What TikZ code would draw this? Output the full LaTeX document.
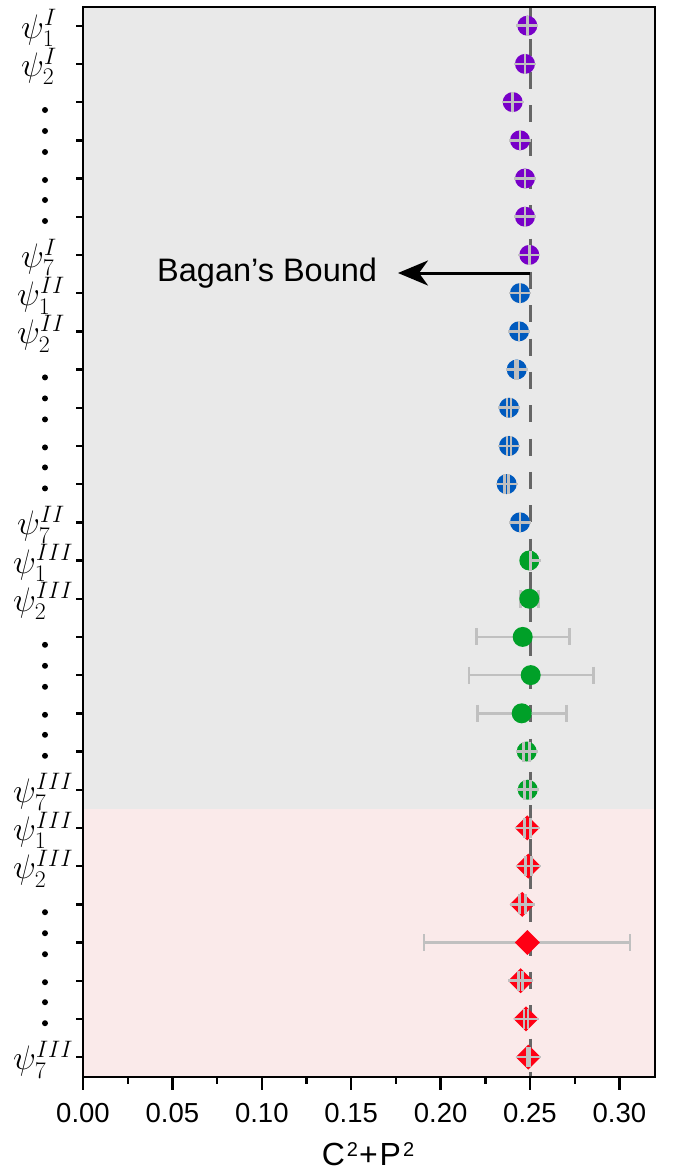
\RequirePackage{fix-cm}
\documentclass[tikz,border=0pt]{standalone}
\usepackage[no-math]{fontspec}
\newfontfamily\arial{Liberation Sans}
\usetikzlibrary{arrows.meta}
\definecolor{bggray}{RGB}{233,233,233}
\definecolor{bgpink}{RGB}{250,234,234}
\definecolor{dashgray}{RGB}{102,102,102}
\definecolor{errgray}{RGB}{192,192,192}
\definecolor{mpurple}{RGB}{120,0,200}
\definecolor{mblue}{RGB}{0,90,190}
\definecolor{mgreen}{RGB}{0,160,40}
\definecolor{mred}{RGB}{255,0,20}
\newcommand{\sqtwo}{\raisebox{9pt}{\fontsize{20}{20}\selectfont 2}}
\tikzset{
  crossln/.style={draw=errgray, line width=2.6pt},
  errln/.style={draw=errgray, line width=2.6pt},
  frameln/.style={draw=black, line width=2.6pt},
  tickln/.style={draw=black, line width=2.4pt},
  ticklab/.style={anchor=base, inner sep=0pt, font=\arial\fontsize{27.5}{30}\selectfont},
  psilab/.style={anchor=west, inner sep=0pt, font=\fontsize{34}{34}\selectfont},
  vdot/.style={fill=black},
}
\begin{document}
\begin{tikzpicture}[x=1pt,y=-1pt]
\useasboundingbox (0,0) rectangle (685,1170);
\fill[white] (0,0) rectangle (685,1170);
% backgrounds
\fill[bggray] (83,7) rectangle (655,809);
\fill[bgpink] (83,809) rectangle (655,1077);
% Bagan's bound dashed line
\draw[dashgray, line width=3pt, dash pattern=on 17pt off 16.33pt, dash phase=1.7pt] (530,7) -- (530,1077);
% arrow
\coordinate (bbstart) at (530,273);
\coordinate (bbtip) at (398,273);
\draw[line width=3pt, -{Stealth[length=30pt,width=25pt,inset=9pt]}] (bbstart) -- (bbtip);
\node[anchor=base west, inner sep=0pt, font=\arial\fontsize{32.5}{34}\selectfont] (bagan) at (157,281) {Bagan’s Bound};
% purple (group I)
\foreach \r/\x/\d in {0/527.3/0,1/525/0,2/512.7/0,3/520/0,4/525/0,5/525/0,6/529.3/0}{
  \pgfmathsetmacro\yy{25.7+38.2*\r}
  \fill[mpurple] (\x,\yy) circle (10pt);
  \draw[crossln] (\x-11,\yy) -- (\x+11,\yy);
  \draw[crossln] (\x-\d,\yy-10) -- (\x-\d,\yy+10) (\x+\d,\yy-10) -- (\x+\d,\yy+10);
}
% blue (group II)
\foreach \r/\x/\d in {7/520/0,8/519/0,9/516.7/1.3,10/509/2,11/509/2,12/506.7/2,13/520/0}{
  \pgfmathsetmacro\yy{25.7+38.2*\r}
  \fill[mblue] (\x,\yy) circle (10pt);
  \draw[crossln] (\x-11,\yy) -- (\x+11,\yy);
  \draw[crossln] (\x-\d,\yy-10) -- (\x-\d,\yy+10) (\x+\d,\yy-10) -- (\x+\d,\yy+10);
}
% green (group III)
\pgfmathsetmacro\yy{25.7+38.2*14}
\fill[mgreen] (529.3,\yy) circle (10pt);
\draw[crossln] (530.3,\yy) -- (541,\yy);
\draw[crossln] (530.3,\yy-10) -- (530.3,\yy+10);
\foreach \r/\x/\xl/\xr/\ch in {15/529.3/520.3/538.3/9,16/522.7/476.7/569.3/8.5,17/530.7/469/593.3/8.5,18/521.7/477.7/566.7/8.5}{
  \pgfmathsetmacro\yy{25.7+38.2*\r}
  \draw[errln] (\xl,\yy) -- (\xr,\yy) (\xl,\yy-\ch) -- (\xl,\yy+\ch) (\xr,\yy-\ch) -- (\xr,\yy+\ch);
  \fill[mgreen] (\x,\yy) circle (10pt);
}
\foreach \r/\x/\d in {19/526.7/3,20/527.7/3}{
  \pgfmathsetmacro\yy{25.7+38.2*\r}
  \fill[mgreen] (\x,\yy) circle (10pt);
  \draw[crossln] (\x-11,\yy) -- (\x+11,\yy);
  \draw[crossln] (\x-\d,\yy-10) -- (\x-\d,\yy+10) (\x+\d,\yy-10) -- (\x+\d,\yy+10);
}
% red diamonds
\foreach \r/\x/\d in {21/527.3/3,22/528.3/3,23/522.3/3,25/520.7/2,26/526/2,27/528.3/1.3}{
  \pgfmathsetmacro\yy{25.7+38.2*\r}
  \fill[mred] (\x,\yy-12.5) -- (\x+12.5,\yy) -- (\x,\yy+12.5) -- (\x-12.5,\yy) -- cycle;
  \draw[crossln] (\x-12.5,\yy) -- (\x+12.5,\yy);
  \draw[crossln] (\x-\d,\yy-10) -- (\x-\d,\yy+10) (\x+\d,\yy-10) -- (\x+\d,\yy+10);
}
\pgfmathsetmacro\yy{25.7+38.2*24}
\draw[errln] (424,\yy) -- (630,\yy) (424,\yy-8.5) -- (424,\yy+8.5) (630,\yy-8.5) -- (630,\yy+8.5);
\fill[mred] (527.3,\yy-12.5) -- (539.8,\yy) -- (527.3,\yy+12.5) -- (514.8,\yy) -- cycle;
% frame
\draw[frameln] (83,7) rectangle (655,1077);
% y ticks
\foreach \r in {0,...,27}{
  \pgfmathsetmacro\yy{25.7+38.2*\r}
  \draw[tickln] (76,\yy) -- (83,\yy);
}
% x ticks
\foreach \k/\lab in {0/0.00,1/0.05,2/0.10,3/0.15,4/0.20,5/0.25,6/0.30}{
  \pgfmathsetmacro\xx{83+89.4*\k}
  \draw[tickln] (\xx,1077) -- (\xx,1090);
  \node[ticklab] (xt\k) at (\xx,1122) {\lab};
}
\foreach \k in {0,...,5}{
  \pgfmathsetmacro\xx{83+44.7+89.4*\k}
  \draw[tickln] (\xx,1077) -- (\xx,1084);
}
\node[anchor=base, inner sep=0pt, font=\arial\fontsize{32}{34}\selectfont] (xlab) at (368,1165) {C\kern2pt\sqtwo\kern1pt+\kern2pt P\kern2pt\sqtwo};
% psi labels
\foreach \r/\lx/\sup/\sub in {0/21/I/1,1/21/I/2,6/21/I/7,7/17/II/1,8/17/II/2,13/17/II/7,14/13/III/1,15/13/III/2,20/13/III/7,21/13/III/1,22/13/III/2,27/13/III/7}{
  \pgfmathsetmacro\yy{25.7+38.2*\r+2.5}
  \node[psilab] (psi\r) at (\lx,\yy) {$\psi^{\sup}_{\sub}$};
}
% vertical dots
\foreach \g in {0,7,14,21}{
  \foreach \o [count=\i] in {84.3,105.3,126.3,154.3,174.3,195.3}{
    \pgfmathsetmacro\yy{25.7+38.2*\g+\o}
    \fill[vdot] (45,\yy) circle (3pt);
  }
}
\end{tikzpicture}
\end{document}
